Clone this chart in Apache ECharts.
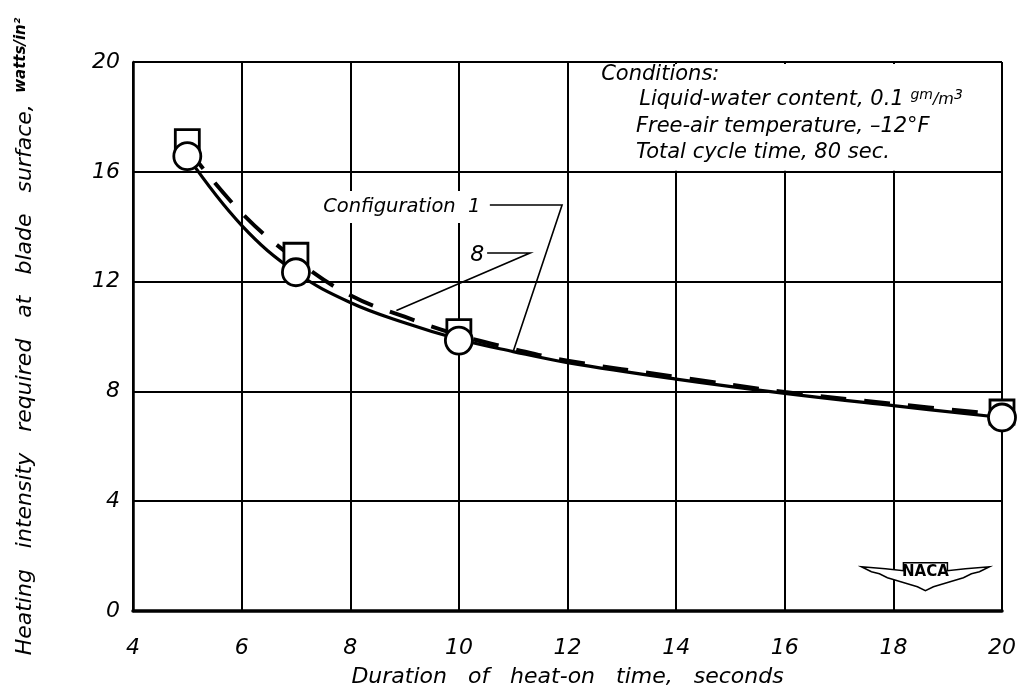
<!DOCTYPE html>
<html><head><meta charset="utf-8">
<script src="https://cdn.jsdelivr.net/npm/echarts@6/dist/echarts.min.js"></script>
<style>html,body{margin:0;padding:0;background:#fff}#c{width:1022px;height:694px}</style>
</head><body><div id="c"></div>
<script>
// ---- data ----
const xTicks = [4, 6, 8, 10, 12, 14, 16, 18, 20];
const yTicks = [0, 4, 8, 12, 16, 20];
const config1X = [5, 7, 10, 20];
const config1Y = [16.57, 12.34, 9.85, 7.05];
const config8X = [5, 7, 10, 20];
const config8Y = [17.1, 12.96, 10.18, 7.25];
const curve1X = [5, 6, 7, 8, 9, 10, 11, 12, 14, 16, 18, 20];
const curve1Y = [16.57, 14.05, 12.34, 11.24, 10.5, 9.9, 9.45, 9.05, 8.45, 7.93, 7.48, 7.05];
const curve8X = [5, 6, 7, 8, 9, 10, 11, 12, 14, 16, 18, 20];
const curve8Y = [16.85, 14.5, 12.8, 11.5, 10.72, 10.05, 9.55, 9.12, 8.53, 7.98, 7.55, 7.15];
const xTitle = 'Duration   of   heat-on   time,   seconds';
const yTitleMain = 'Heating   intensity   required   at   blade   surface,';
const yTitleUnit = 'watts/in²';

const FONT = "'DejaVu Sans', sans-serif";
const pairs = (xs, ys) => xs.map((x, i) => [x, ys[i]]);

const chart = echarts.init(document.getElementById('c'), null, {renderer: 'canvas'});
chart.setOption({
  animation: false,
  backgroundColor: '#fff',
  grid: {left: 133, right: 20, top: 62, bottom: 83, show: false},
  xAxis: {
    type: 'value', min: xTicks[0], max: xTicks[xTicks.length - 1], interval: 2,
    axisLine: {show: true, lineStyle: {color: '#000', width: 3.5}},
    axisTick: {show: false},
    splitLine: {show: true, lineStyle: {color: '#000', width: 2}},
    axisLabel: {color: '#000', fontSize: 22, fontStyle: 'italic', fontFamily: FONT, margin: 26},
    name: xTitle, nameLocation: 'middle', nameGap: 55,
    nameTextStyle: {color: '#000', fontSize: 22, fontStyle: 'italic', fontFamily: FONT}
  },
  yAxis: {
    type: 'value', min: yTicks[0], max: yTicks[yTicks.length - 1], interval: 4,
    axisLine: {show: true, lineStyle: {color: '#000', width: 2.5}},
    axisTick: {show: false},
    splitLine: {show: true, lineStyle: {color: '#000', width: 2}},
    axisLabel: {color: '#000', fontSize: 22, fontStyle: 'italic', fontFamily: FONT, margin: 13},
    name: '{m|' + yTitleMain + '}   {s|' + yTitleUnit + '}',
    nameLocation: 'middle', nameGap: 97,
    nameTextStyle: {
      color: '#000', fontFamily: FONT,
      rich: {
        m: {fontSize: 22, fontStyle: 'italic', fontFamily: FONT, color: '#000'},
        s: {fontSize: 15, fontWeight: 'bold', fontStyle: 'italic', fontFamily: FONT, color: '#000', verticalAlign: 'top'}
      }
    }
  },
  series: [
    {type: 'line', data: pairs(curve8X, curve8Y), showSymbol: false, smooth: 0.4, z: 2,
     lineStyle: {color: '#000', width: 4, type: [26, 18]}},
    {type: 'line', data: pairs(curve1X, curve1Y), showSymbol: false, smooth: 0.4, z: 3,
     lineStyle: {color: '#000', width: 3.2}},
    {type: 'scatter', data: pairs(config8X, config8Y), symbol: 'rect', symbolSize: 24, z: 4,
     itemStyle: {color: '#fff', borderColor: '#000', borderWidth: 2.8, opacity: 1}},
    {type: 'scatter', data: pairs(config1X, config1Y), symbol: 'circle', symbolSize: 27, z: 5,
     itemStyle: {color: '#fff', borderColor: '#000', borderWidth: 2.8, opacity: 1}}
  ]
});

// ---- annotations (placed in data coordinates) ----
const P = (x, y) => chart.convertToPixel({gridIndex: 0}, [x, y]);
const txt = {fill: '#000', fontFamily: FONT, fontStyle: 'italic', fontSize: 21};
const boxA = P(12.45, 19.93), boxB = P(19.97, 16.04);
const g = [];
g.push({type: 'rect', shape: {x: boxA[0], y: boxA[1], width: boxB[0] - boxA[0], height: boxB[1] - boxA[1]},
  style: {fill: '#fff'}, z: 10});
const cond = [
  {x: 12.62, y: 19.54, t: 'Conditions:'},
  {x: 13.32, y: 18.62, t: 'Liquid-water content, 0.1 {sup|gm}{sm|/m}{sup|3}'},
  {x: 13.26, y: 17.64, t: 'Free-air temperature, –12°F'},
  {x: 13.26, y: 16.7, t: 'Total cycle time, 80 sec.'}
];
cond.forEach(c => {
  const p = P(c.x, c.y);
  g.push({type: 'text', x: p[0], y: p[1], z: 11,
    style: Object.assign({}, txt, {text: c.t, verticalAlign: 'middle', align: 'left',
      rich: {
        sup: {fontSize: 14, fontStyle: 'italic', fontFamily: FONT, fill: '#000', verticalAlign: 'top', padding: [0, 0, 10, 0]},
        sm: {fontSize: 16, fontStyle: 'italic', fontFamily: FONT, fill: '#000'}
      }})});
});
// Configuration labels with white backgrounds
const lab1 = P(8.95, 14.72);
g.push({type: 'text', x: lab1[0], y: lab1[1], z: 11,
  style: Object.assign({}, txt, {text: 'Configuration  1', fontSize: 19.5, align: 'center', verticalAlign: 'middle',
    backgroundColor: '#fff', padding: [6, 4]})});
const lab8 = P(10.34, 12.95);
g.push({type: 'text', x: lab8[0], y: lab8[1], z: 11,
  style: Object.assign({}, txt, {text: '8', align: 'center', verticalAlign: 'middle', fontSize: 22,
    backgroundColor: '#fff', padding: [4, 3]})});
const lead1 = [P(10.57, 14.79), P(11.9, 14.79), P(11.0, 9.45)];
const lead8 = [P(10.52, 13.04), P(11.31, 13.04), P(8.85, 10.95)];
[lead1, lead8].forEach(pts => g.push({type: 'polyline', shape: {points: pts}, z: 12,
  style: {stroke: '#000', lineWidth: 1.6, fill: null}}));
// NACA logo
const lp = P(18.59, 1.32);
const wing = [[-64,-8],[-40,-6],[-22,-4],[-22,-12],[22,-12],[22,-4],[40,-6],[64,-8],[54,-3],[46,-1],[38,3],[28,6],[18,9],[8,12],[0,16],[-8,12],[-18,9],[-28,6],[-38,3],[-46,-1],[-54,-3]];
g.push({type: 'group', x: lp[0], y: lp[1], z: 13, children: [
  {type: 'polygon', shape: {points: wing}, style: {fill: '#fff', stroke: '#000', lineWidth: 1.5}},
  {type: 'text', x: 0, y: -3, style: {text: 'NACA', fill: '#000', fontFamily: FONT, fontWeight: 'bold', fontSize: 15, align: 'center', verticalAlign: 'middle'}}
]});
chart.setOption({graphic: g});
</script>
</body></html>
